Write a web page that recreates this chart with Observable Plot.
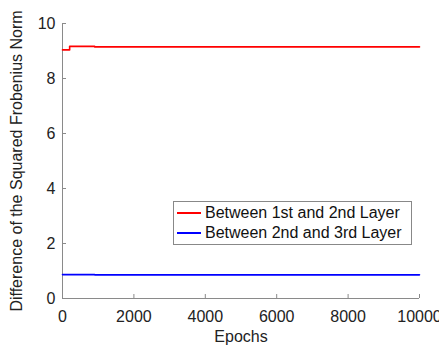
<!DOCTYPE html>
<html>
<head>
<meta charset="utf-8">
<script src="https://cdn.jsdelivr.net/npm/d3@7"></script>
<script src="https://cdn.jsdelivr.net/npm/@observablehq/plot@0.6"></script>
<style>
  body { margin: 0; background: #fff; }
  #wrap { position: relative; width: 439px; height: 349px; overflow: hidden; font-family: "Liberation Sans", Arial, Helvetica, sans-serif; }
  #legend { position: absolute; left: 173px; top: 201px; width: 237px; height: 42px; border: 1px solid #888; background: #fff; font-size: 16px; color: #111; }
  .row { position: absolute; left: 0; height: 20px; display: flex; align-items: center; white-space: nowrap; }
  .sw { display: inline-block; width: 24px; height: 2px; margin: 0 4px 0 3px; }
  svg g[aria-label="y-axis label"] text, svg g[aria-label="x-axis label"] text { font-size: 16px; }
</style>
</head>
<body>
<div id="wrap"></div>
<script>
// Data
const epochs = [0, 200, 900, 10000];
const layer12 = [9.04, 9.17, 9.15, 9.15];
const layer23 = [0.87, 0.87, 0.86, 0.86];
const seriesNames = ["Between 1st and 2nd Layer", "Between 2nd and 3rd Layer"];
const seriesColors = ["#ff0000", "#0000ff"];
const xTicks = [0, 2000, 4000, 6000, 8000, 10000];
const yTicks = [0, 2, 4, 6, 8, 10];

const rows = [];
epochs.forEach((e, i) => {
  rows.push({epoch: e, value: layer12[i], series: seriesNames[0]});
  rows.push({epoch: e, value: layer23[i], series: seriesNames[1]});
});

const W = 439, H = 349, ML = 62, MR = 20, MT = 23, MB = 51;
const plotW = W - ML - MR, plotH = H - MT - MB;
const axisColor = "#8a8a8a";

const chart = Plot.plot({
  width: W, height: H,
  marginLeft: ML, marginRight: MR, marginTop: MT, marginBottom: MB,
  style: {fontSize: "16px", fontFamily: "'Liberation Sans', Arial, Helvetica, sans-serif", color: "#222", background: "#fff", overflow: "visible"},
  x: {domain: [0, 10000]},
  y: {domain: [0, 10]},
  color: {domain: seriesNames, range: seriesColors},
  marks: [
    Plot.axisX({ticks: xTicks, tickSize: 0, tickPadding: 12, tickFormat: d => String(d), label: "Epochs", labelAnchor: "center", labelArrow: "none", labelOffset: 43, fontSize: 16}),
    Plot.axisY({ticks: yTicks, tickSize: 0, tickPadding: 7, tickFormat: d => String(d), label: "Difference of the Squared Frobenius Norm", labelAnchor: "center", labelArrow: "none", labelOffset: 52, fontSize: 16}),
    Plot.tickX(xTicks, {x: d => d, insetTop: plotH - 4, stroke: axisColor}),
    Plot.tickY(yTicks, {y: d => d, insetRight: plotW - 4, stroke: axisColor}),
    Plot.ruleX([0], {stroke: axisColor, strokeWidth: 1}),
    Plot.ruleY([0], {stroke: axisColor, strokeWidth: 1}),
    Plot.line(rows, {x: "epoch", y: "value", z: "series", stroke: "series", strokeWidth: 1.6, curve: "step-after"})
  ]
});

const wrap = document.getElementById("wrap");
wrap.appendChild(chart);

const legend = document.createElement("div");
legend.id = "legend";
seriesNames.forEach((name, i) => {
  const r = document.createElement("div");
  r.className = "row";
  r.style.top = (i * 20 + 1) + "px";
  const sw = document.createElement("span");
  sw.className = "sw";
  sw.style.background = seriesColors[i];
  const t = document.createElement("span");
  t.textContent = name;
  r.appendChild(sw); r.appendChild(t);
  legend.appendChild(r);
});
wrap.appendChild(legend);
</script>
</body>
</html>
